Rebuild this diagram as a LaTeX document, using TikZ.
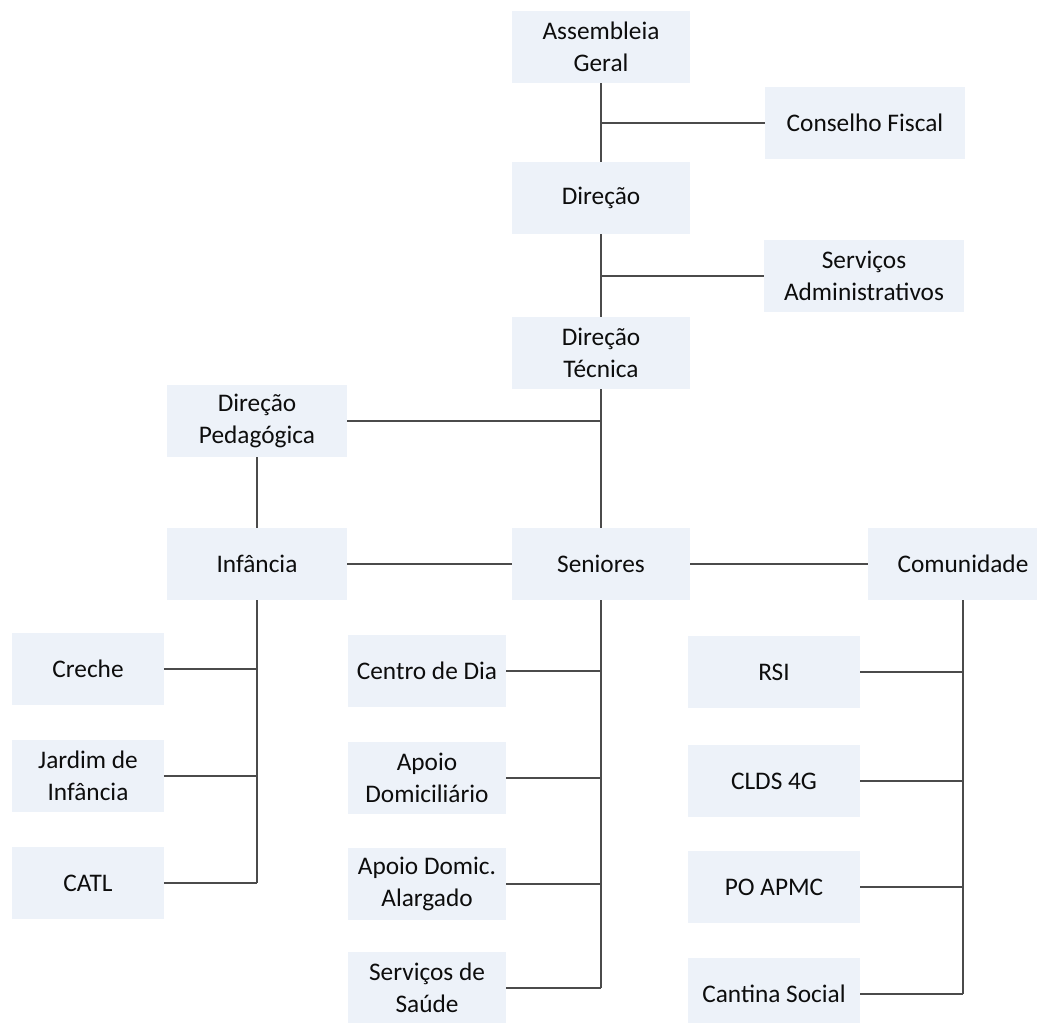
\documentclass[tikz,border=0pt]{standalone}
\usepackage{fontspec}
\setmainfont{Carlito}
\definecolor{boxfill}{RGB}{237,242,249}
\definecolor{linegray}{RGB}{75,75,75}

\begin{document}
\begin{tikzpicture}[
      every node/.style={fill=boxfill, align=center, minimum height=1.8cm,
        inner sep=2pt, text=black!95, font=\fontsize{18}{23}\selectfont},
      conn/.style={draw=linegray, line width=0.75pt},
      x=0.025cm,
      y=-0.025cm]
    \useasboundingbox (0, 0) rectangle (1037, 1022);

    \node [minimum width=4.45cm] (ag)  at (601,  47) {Assembleia\\Geral};
    \node [minimum width=5cm]    (cf)  at (865, 123) {Conselho Fiscal};
    \node [minimum width=4.45cm] (dir) at (601, 198) {Direção};
    \node [minimum width=5cm]    (sa)  at (864, 276) {Serviços\\Administrativos};
    \node [minimum width=4.45cm] (dt)  at (601, 353) {Direção\\Técnica};

    \node [minimum width=4.5cm]  (dp)  at (257, 421) {Direção\\Pedagógica};
    \node [minimum width=4.5cm]  (inf) at (257, 564) {Infância};
    \node [minimum width=4.45cm] (sen) at (601, 564) {Seniores};
    \node [minimum width=4.75cm] (com) at (963, 564) {Comunidade};

    \node [minimum width=3.78cm] (creche) at (88, 669) {Creche};
    \node [minimum width=3.78cm] (jardim) at (88, 776) {Jardim de\\Infância};
    \node [minimum width=3.78cm] (catl)   at (88, 883) {CATL};

    \node [minimum width=3.95cm] (cdia)   at (427, 671) {Centro de Dia};
    \node [minimum width=3.95cm] (apoio)  at (427, 778) {Apoio\\Domiciliário};
    \node [minimum width=3.95cm] (alarg)  at (427, 884) {Apoio Domic.\\Alargado};
    \node [minimum width=3.95cm] (saude)  at (427, 988) {Serviços de\\Saúde};

    \node [minimum width=4.3cm]  (rsi)     at (774, 672) {RSI};
    \node [minimum width=4.3cm]  (clds)    at (774, 781) {CLDS 4G};
    \node [minimum width=4.3cm]  (poapmc)  at (774, 887) {PO APMC};
    \node [minimum width=4.3cm]  (cantina) at (774, 994) {Cantina Social};

    \draw [conn] (ag) -- (dir);
    \draw [conn] (cf) -- (cf -| ag);
    \draw [conn] (dir) -- (dt);
    \draw [conn] (sa) -- (sa -| dir);
    \draw [conn] (dt) -- (sen);
    \draw [conn] (dp) -- (dp -| dt);

    \draw [conn, line width=1.4pt] (dp) -- (inf);
    \draw [conn] (inf) -- (sen);
    \draw [conn] (sen) -- (com);

    \draw [conn] (inf) -- (inf |- catl);
    \draw [conn] (creche) -- (creche -| inf);
    \draw [conn] (jardim) -- (jardim -| inf);
    \draw [conn] (catl) -- (catl -| inf);

    \draw [conn] (sen) -- (sen |- saude);
    \draw [conn] (cdia) -- (cdia -| sen);
    \draw [conn] (apoio) -- (apoio -| sen);
    \draw [conn] (alarg) -- (alarg -| sen);
    \draw [conn] (saude) -- (saude -| sen);

    \draw [conn] (com) -- (com |- cantina);
    \draw [conn] (rsi) -- (rsi -| com);
    \draw [conn] (clds) -- (clds -| com);
    \draw [conn] (poapmc) -- (poapmc -| com);
    \draw [conn] (cantina) -- (cantina -| com);

  \end{tikzpicture}
\end{document}
